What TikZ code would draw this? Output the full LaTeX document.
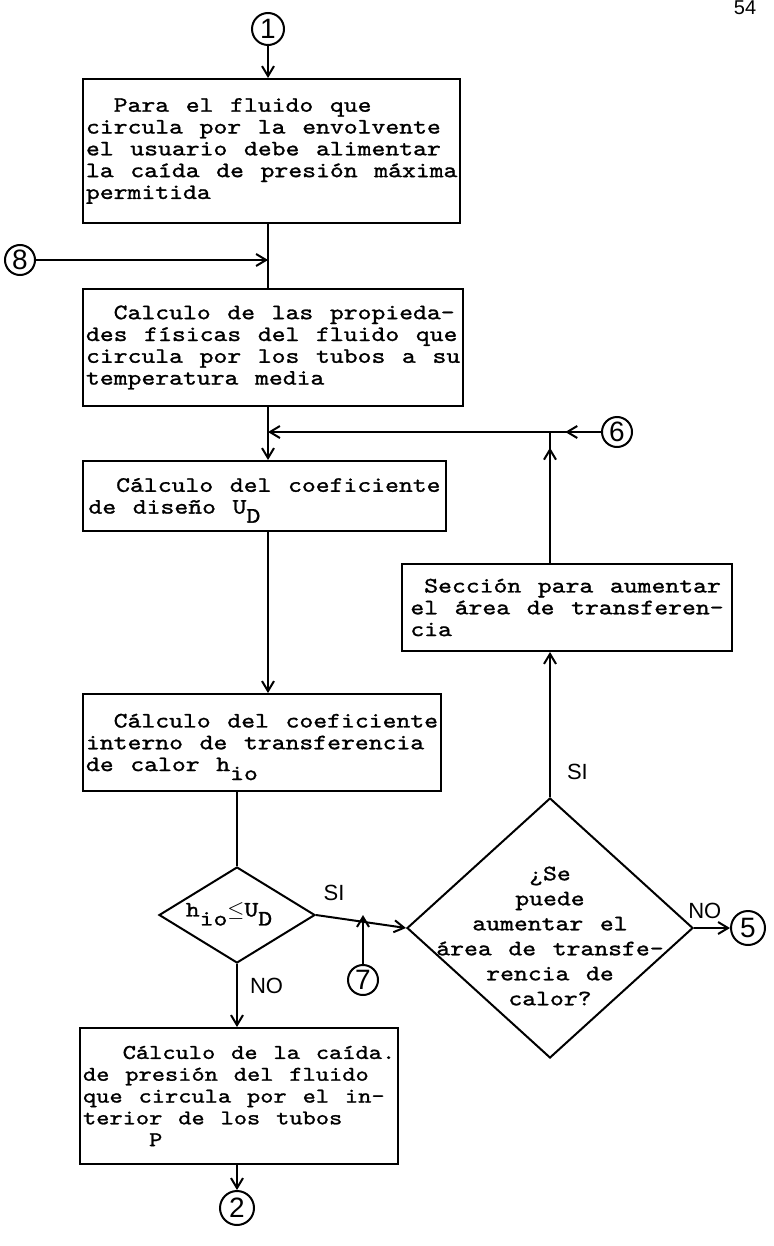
\documentclass[tikz,border=0pt]{standalone}
\usepackage{fontspec}
\usepackage{tikz}
\usetikzlibrary{positioning,shapes.geometric,arrows.meta,decorations.markings}
\newfontfamily\tw{lmmono10-regular.otf}[FakeStretch=1.2,FakeBold=1.2,WordSpace=1.2]
\newfontfamily\hand{Liberation Sans}
\newcommand\ind[1]{\hspace*{#1\fontcharwd\font`\x}}
\newcommand\dn[1]{\raisebox{-4.5pt}[0pt][0pt]{#1}}

\begin{document}
\begin{tikzpicture}[x=0.5pt,y=-0.5pt,
  line width=1pt,>={Straight Barb[length=5pt,width=6pt]},
  box/.style={draw,rectangle,anchor=north west,inner sep=1.5pt,align=left,
    font=\tw\fontsize{11}{10.9}\selectfont},
  decision/.style={draw,diamond,inner sep=0pt},
  conn/.style={draw,circle,inner sep=0pt,minimum size=16pt,
    font=\hand\fontsize{14}{14}\selectfont},
  lbl/.style={font=\hand\fontsize{11}{11}\selectfont,inner sep=2pt},
  arrowat/.style={postaction={decorate},decoration={markings,
    mark=at position #1 with {\arrow{>}}}}]
\fill[white] (0,0) rectangle (773,1246);
\useasboundingbox (0,0) rectangle (773,1246);

\node[lbl,font=\hand\fontsize{10}{10}\selectfont] (pag) at (745,8) {54};

% upper column
\node[conn] (c1) at (268,29) {1};
\node[box,minimum width=188pt,minimum height=72pt] (fluido) at (82,78)
  {\ind{2}Para el fluido que\\circula por la envolvente\\el usuario debe alimentar\\la caída de presión máxima\\permitida};
\node[conn,minimum size=15pt] (c8) at (20,260) {8};
\coordinate (j8) at (268,260);
\node[box,minimum width=188.5pt,minimum height=58.5pt] (prop) at (82,288)
  {\ind{2}Calculo de las propieda-\\des físicas del fluido que\\circula por los tubos a su\\temperatura media};
\node[conn,minimum size=15pt] (c6) at (617,432) {6};
\coordinate (j6) at (550,432);
\node[box,minimum width=181.5pt,minimum height=35pt] (ud) at (82,460)
  {\ind{2}Cálculo del coeficiente\\de diseño U\dn{D}};
\node[box,minimum width=165pt,minimum height=43.5pt] (area) at (401,563)
  {\ind{1}Sección para aumentar\\el área de transferen-\\cia};
\node[box,minimum width=179pt,minimum height=48.5pt] (hio) at (82,693)
  {\ind{2}Cálculo del coeficiente\\interno de transferencia\\de calor h\dn{io}};

% decisions
\node[decision,minimum width=78pt,minimum height=48pt,
  label={[font=\tw\fontsize{11}{11}\selectfont,xshift=-4pt,yshift=2pt]center:{h\dn{io}$\leq$U\dn{D}}}] (comp) at (237,915) {};
\node[decision,minimum width=143pt,minimum height=130pt,
  label={[font=\tw\fontsize{11}{12.5}\selectfont,align=center,yshift=-4pt]center:{¿Se\\puede\\aumentar el\\área de transfe-\\rencia de\\calor?}}] (puede) at (550,928) {};
\node[conn,minimum size=15pt] (c7) at (363,980) {7};
\node[conn,minimum size=17pt] (c5) at (748,928) {5};

% lower column
\node[box,minimum width=158pt,minimum height=68pt,font=\tw\fontsize{10.5}{10.9}\selectfont] (caida) at (79,1027)
  {\ind{3}Cálculo de la caída.\\de presión del fluido\\que circula por el in-\\terior de los tubos\\\ind{5}P};
\node[conn,minimum size=17pt] (c2) at (237,1208) {2};

% connectors
\draw[->] (c1) -- (c1 |- fluido.north);
\draw (c1 |- fluido.south) -- (c1 |- prop.north);
\draw[->] (c8) -- (j8);
\draw[->] (c1 |- prop.south) -- (c1 |- ud.north);
\draw[->] (j6) -- (j6 -| c1);
\draw[arrowat=0.7] (c6) -- (j6);
\draw[arrowat=0.88] (j6 |- area.north) -- (j6);
\draw[->] (c1 |- ud.south) -- (c1 |- hio.north);
\draw (comp.north |- hio.south) -- (comp.north);
\draw[->] (comp.south) -- node[lbl,pos=0.35,right=4pt] {NO} (caida.north -| comp.south);
\draw[->] (comp.east) -- node[lbl,pos=0.2,above=6pt] {SI} (puede.west);
\draw[->] (c7) -- (c7 |- comp.east);
\draw[->] (puede.north) -- node[lbl,pos=0.17,right=6pt] {SI} (puede.north |- area.south);
\draw[->] (puede.east) -- node[lbl,pos=0.3,above=2pt] {NO} (c5);
\draw[->] (caida.south -| c2) -- (c2);
\end{tikzpicture}
\end{document}
